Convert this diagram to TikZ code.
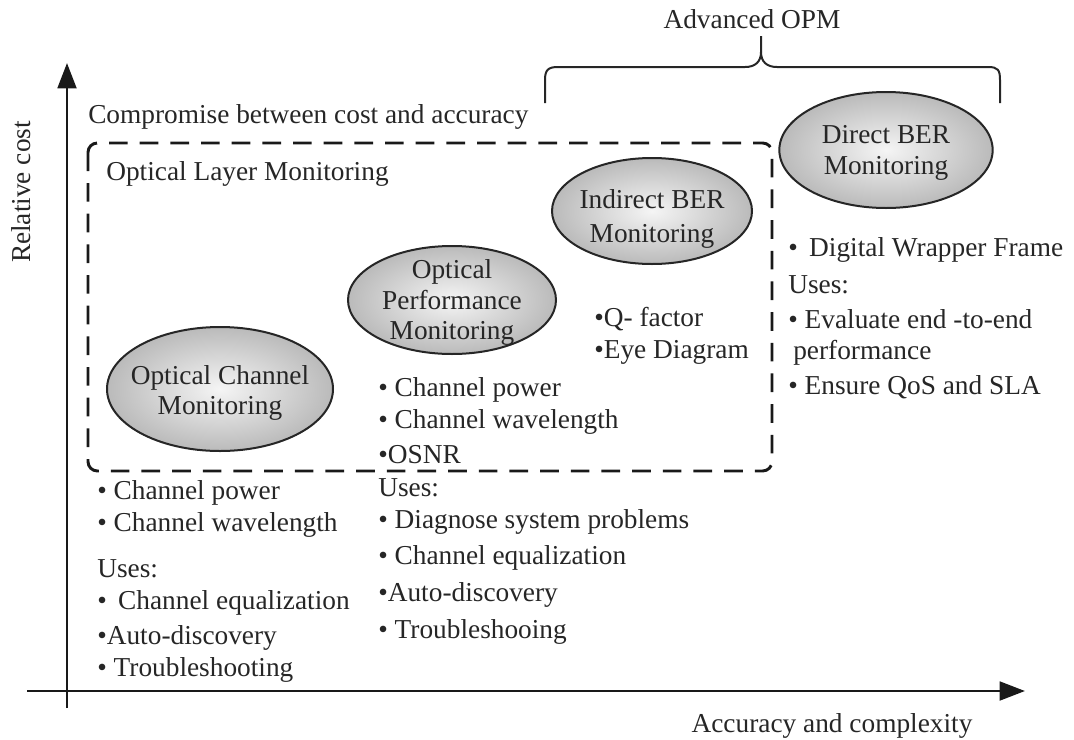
\documentclass[tikz,border=0pt]{standalone}
\usepackage{fontspec}
\setmainfont{Liberation Serif}
\usetikzlibrary{shapes.geometric,arrows.meta}
\begin{document}
\begin{tikzpicture}[x=0.75pt,y=-0.75pt,
  txt/.style={anchor=base west, inner sep=0pt, font=\fontsize{20.5}{23}\selectfont, text=black!85},
  ctxt/.style={anchor=center, inner sep=0pt, align=center, font=\fontsize{20.5}{23}\selectfont, text=black!85},
  ell/.style={ellipse, draw=black!85, line width=1.5pt, shading=radial, inner color=black!4, outer color=black!27, inner sep=0pt},
  axisline/.style={line width=2.2pt, draw=black!90, -{Triangle[length=19pt,width=14pt]}},
  dashbox/.style={line width=2.2pt, draw=black!90, dash pattern=on 14pt off 9pt, rounded corners=7pt},
  bracepath/.style={line width=1.5pt, draw=black!85},
]
\useasboundingbox (0,0) rectangle (1074,739);

% axes
\coordinate (xs) at (27,691);
\coordinate (xe) at (1025,691);
\coordinate (ys) at (67,708);
\coordinate (ye) at (67,63);
\draw[axisline] (xs) -- (xe);
\draw[axisline] (ys) -- (ye);
\node[ctxt, rotate=90] (ylab) at (21,192) {Relative cost};
\node[txt, anchor=base] (xlab) at (832,732) {Accuracy and complexity};

% dashed box
\draw[dashbox] (88,143) rectangle (772,471);
\node[txt] (comp) at (88,123) {Compromise between cost and accuracy};
\node[txt] (olm) at (106,180) {Optical Layer Monitoring};

% brace
\draw[bracepath] (545,103) -- (545,80) .. controls (545,70) and (548,67) .. (558,67) -- (745,67)
  .. controls (755,67) and (761,62) .. (761,52) -- (761,36);
\draw[bracepath] (761,52) .. controls (761,62) and (767,67) .. (777,67) -- (988,67)
  .. controls (998,67) and (1000,70) .. (1000,80) -- (1000,103);
\node[txt, anchor=base] (adv) at (752,28) {Advanced OPM};

% ellipses
\node[ell, minimum width=169.5pt, minimum height=93pt] (ocm) at (220,389) {};
\node[ctxt] (ocmt) at ([yshift=-3pt]ocm.center) {Optical Channel\\Monitoring};
\node[ell, minimum width=156pt, minimum height=81pt] (opm) at (452,300) {};
\node[ctxt] (opmt) at ([yshift=-2pt]opm.center) {Optical\\Performance\\Monitoring};
\node[ell, minimum width=150pt, minimum height=79.5pt] (iber) at (652,211) {};
\node[ctxt] (ibert) at ([yshift=-6pt]iber.center) {Indirect BER\\[3pt]Monitoring};
\node[ell, minimum width=160pt, minimum height=87pt] (dber) at (886,150) {};
\node[ctxt] (dbert) at ([yshift=-2pt]dber.center) {Direct BER\\Monitoring};

% left column
\node[txt] (a1) at (97,499) {• Channel power};
\node[txt] (a2) at (97,531) {• Channel wavelength};
\node[txt] (a3) at (97,577) {Uses:};
\node[txt] (a4) at (97,609) {•\, Channel equalization};
\node[txt] (a5) at (97,644) {•Auto-discovery};
\node[txt] (a6) at (97,676) {• Troubleshooting};

% OPM column
\node[txt] (b1) at (378,396) {• Channel power};
\node[txt] (b2) at (378,428) {• Channel wavelength};
\node[txt] (b3) at (378,463) {•OSNR};
\node[txt] (b4) at (378,496) {Uses:};
\node[txt] (b5) at (378,528) {• Diagnose system problems};
\node[txt] (b6) at (378,564) {• Channel equalization};
\node[txt] (b7) at (378,601) {•Auto-discovery};
\node[txt] (b8) at (378,638) {• Troubleshooing};

% indirect BER
\node[txt] (c1) at (594,326) {•Q- factor};
\node[txt] (c2) at (594,358) {•Eye Diagram};

% direct BER
\node[txt] (d1) at (788,256) {•\, Digital Wrapper Frame};
\node[txt] (d2) at (788,293) {Uses:};
\node[txt] (d3) at (788,328) {• Evaluate end -to-end};
\node[txt] (d4) at (793,359) {performance};
\node[txt] (d5) at (788,394) {• Ensure QoS and SLA};
\end{tikzpicture}
\end{document}
